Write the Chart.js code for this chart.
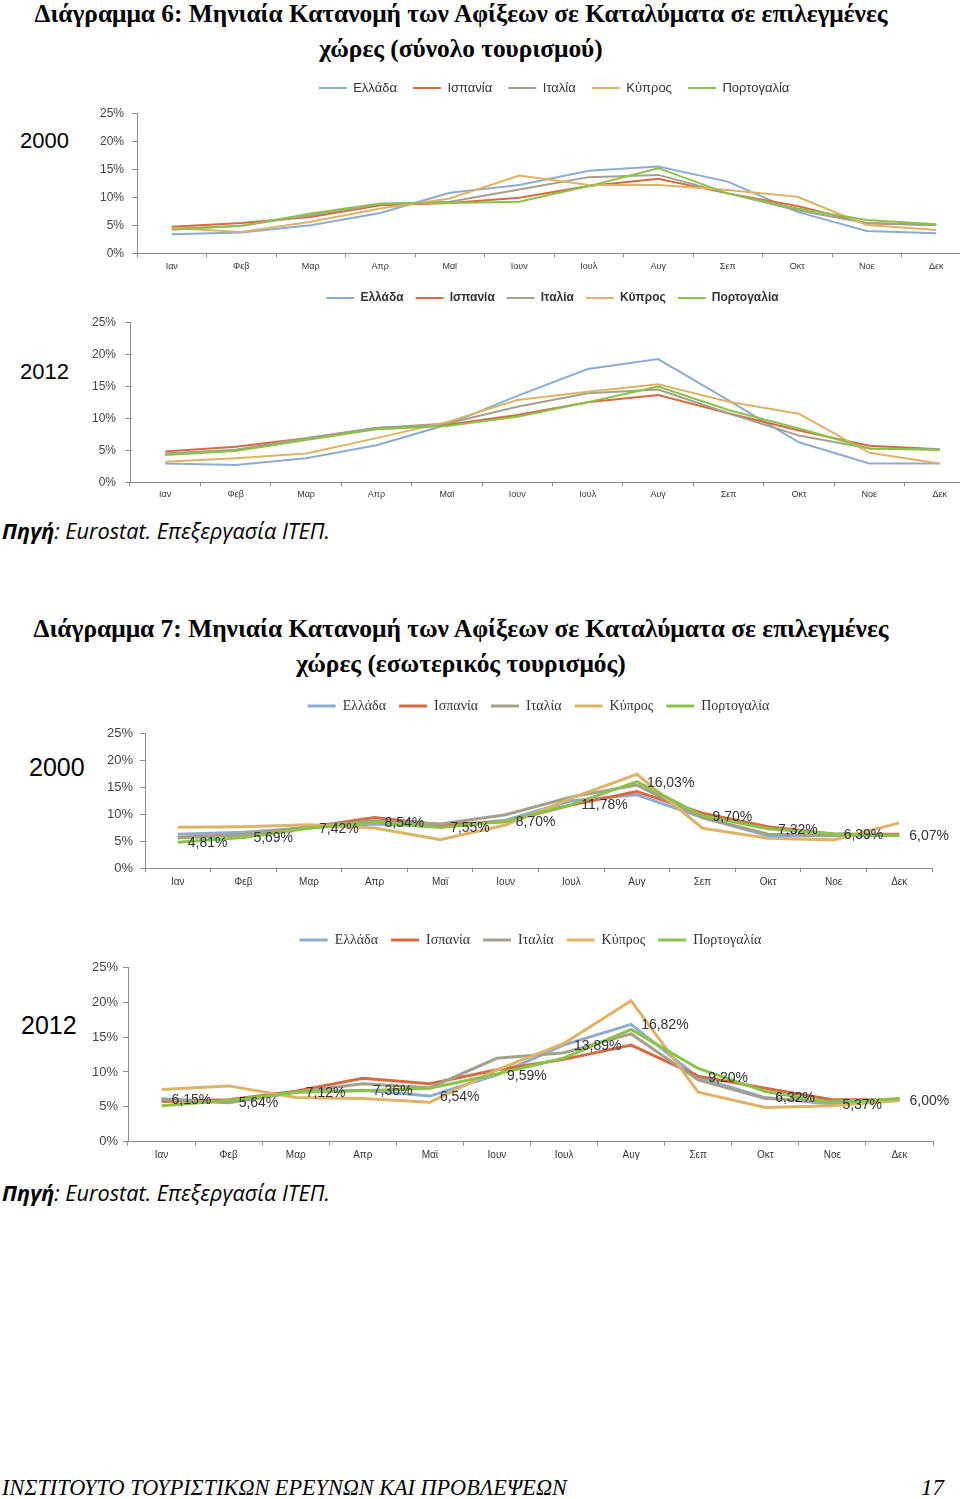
<!DOCTYPE html>
<html lang="el">
<head>
<meta charset="utf-8">
<title>Διαγράμματα 6 και 7</title>
<script src="https://cdn.jsdelivr.net/npm/chart.js@4.4.1/dist/chart.umd.min.js"></script>
<style>
  html, body { margin: 0; padding: 0; width: 960px; height: 1499px; overflow: hidden; background: #fff; }
  .abs { position: absolute; white-space: nowrap; color: #000; }
  .title { left: 0; width: 922px; text-align: center; font-family: 'Liberation Serif', serif; font-weight: bold; font-size: 23px; line-height: 35px; }
  .source { left: 2px; font-family: 'Open Sans', 'Liberation Sans', sans-serif; font-style: italic; font-size: 19px; line-height: 26px; }
  .year { font-family: 'Liberation Sans', Arial, sans-serif; }
  .footer { font-family: 'Liberation Serif', serif; font-style: italic; font-size: 23px; line-height: 30px; }
  canvas { position: absolute; left: 0; }
</style>
</head>
<body>

<div class="abs title" style="top:-4.5px"><span data-w="853">Διάγραμμα 6: Μηνιαία Κατανομή των Αφίξεων σε Καταλύματα σε επιλεγμένες</span><br>χώρες (σύνολο τουρισμού)</div>
<div class="abs year" style="left:20px; top:128px; font-size:22px; line-height:26px">2000</div>
<canvas id="chart1" width="980" height="212" style="top:60px"></canvas>
<div class="abs year" style="left:20px; top:359px; font-size:22px; line-height:26px">2012</div>
<canvas id="chart2" width="980" height="238" style="top:272px"></canvas>
<div class="abs source" style="top:518px"><span data-w="328"><b>Πηγή</b>: Eurostat. Επεξεργασία ΙΤΕΠ.</span></div>

<div class="abs title" style="top:610.5px"><span data-w="855">Διάγραμμα 7: Μηνιαία Κατανομή των Αφίξεων σε Καταλύματα σε επιλεγμένες</span><br>χώρες (εσωτερικός τουρισμός)</div>
<div class="abs year" style="left:29px; top:752px; font-size:25px; line-height:30px">2000</div>
<canvas id="chart3" width="980" height="220" style="top:680px"></canvas>
<div class="abs year" style="left:21px; top:1010px; font-size:25px; line-height:30px">2012</div>
<canvas id="chart4" width="980" height="255" style="top:915px"></canvas>
<div class="abs source" style="top:1180px"><span data-w="328"><b>Πηγή</b>: Eurostat. Επεξεργασία ΙΤΕΠ.</span></div>

<div class="abs footer" style="left:2px; top:1473px"><span data-w="565">ΙΝΣΤΙΤΟΥΤΟ ΤΟΥΡΙΣΤΙΚΩΝ ΕΡΕΥΝΩΝ ΚΑΙ ΠΡΟΒΛΕΨΕΩΝ</span></div>
<div class="abs footer" style="left:921px; top:1473px">17</div>

<script>
// months and countries shared by all four charts
const months = ['Ιαν', 'Φεβ', 'Μαρ', 'Απρ', 'Μαϊ', 'Ιουν', 'Ιουλ', 'Αυγ', 'Σεπ', 'Οκτ', 'Νοε', 'Δεκ'];
const countries = ['Ελλάδα', 'Ισπανία', 'Ιταλία', 'Κύπρος', 'Πορτογαλία'];
const yMax = 25;
const yStep = 5;

// Διάγραμμα 6 - 2000 (σύνολο τουρισμού), % of yearly arrivals
const tot2000Greece   = [3.4, 3.7, 5.0, 7.2, 10.8, 12.2, 14.75, 15.5, 12.8, 7.4, 4.0, 3.6];
const tot2000Spain    = [4.75, 5.4, 6.5, 8.6, 9.0, 9.9, 12.0, 13.3, 10.7, 8.45, 5.35, 5.05];
const tot2000Italy    = [4.4, 4.9, 6.8, 8.8, 9.2, 11.4, 13.6, 14.0, 10.7, 7.7, 5.4, 5.0];
const tot2000Cyprus   = [4.5, 3.8, 5.65, 8.0, 9.8, 13.9, 12.2, 12.2, 11.3, 10.1, 5.05, 4.15];
const tot2000Portugal = [4.2, 4.9, 7.1, 8.9, 9.0, 9.2, 12.0, 15.2, 10.7, 8.0, 5.95, 5.2];

// Διάγραμμα 6 - 2012
const tot2012Greece   = [2.95, 2.7, 3.75, 5.8, 9.0, 13.5, 17.7, 19.25, 12.8, 6.25, 2.95, 2.95];
const tot2012Spain    = [4.8, 5.55, 6.9, 8.5, 9.0, 10.5, 12.5, 13.65, 10.8, 8.1, 5.7, 5.15];
const tot2012Italy    = [4.5, 5.1, 6.9, 8.5, 9.2, 11.8, 13.9, 14.5, 10.8, 7.3, 5.3, 5.15];
const tot2012Cyprus   = [3.2, 3.75, 4.5, 6.9, 9.4, 12.85, 14.15, 15.3, 12.6, 10.7, 4.6, 2.95];
const tot2012Portugal = [4.25, 4.9, 6.6, 8.3, 8.8, 10.25, 12.5, 14.95, 11.3, 8.4, 5.3, 5.05];

// Διάγραμμα 7 - 2000 (εσωτερικός τουρισμός)
const dom2000Greece   = [6.3, 6.65, 7.5, 8.2, 7.7, 8.9, 12.5, 13.6, 9.4, 6.0, 6.0, 6.2];
const dom2000Spain    = [5.7, 6.2, 7.6, 9.4, 8.05, 8.6, 11.7, 14.2, 10.2, 7.7, 6.3, 6.3];
const dom2000Italy    = [5.6, 6.2, 7.7, 8.8, 8.2, 9.9, 13.2, 15.4, 9.4, 6.3, 6.1, 6.1];
const dom2000Cyprus   = [7.6, 7.7, 8.05, 7.45, 5.3, 8.0, 13.0, 17.4, 7.4, 5.55, 5.25, 8.4];
const dom2000Portugal = [4.81, 5.69, 7.42, 8.54, 7.55, 8.70, 11.78, 16.03, 9.70, 7.32, 6.39, 6.07];

// Διάγραμμα 7 - 2012
const dom2012Greece   = [6.15, 5.64, 7.12, 7.36, 6.54, 9.59, 13.89, 16.82, 9.20, 6.32, 5.37, 6.00];
const dom2012Spain    = [5.75, 6.0, 7.25, 9.1, 8.3, 10.3, 11.8, 13.85, 9.4, 7.65, 6.0, 6.0];
const dom2012Italy    = [6.1, 5.6, 7.1, 8.3, 7.75, 11.95, 12.75, 15.45, 8.85, 6.2, 5.8, 6.1];
const dom2012Cyprus   = [7.5, 8.0, 6.35, 6.2, 5.65, 10.3, 14.1, 20.2, 7.1, 4.9, 5.15, 5.9];
const dom2012Portugal = [5.15, 5.9, 7.1, 7.3, 7.65, 9.7, 12.0, 16.1, 10.5, 7.2, 5.6, 6.2];

const colors = ['#8eaccf', '#d46b43', '#a3a18b', '#dcb467', '#8cc24a'];
const axisColor = '#8c8c8c';
const sans = "'Liberation Sans', Arial, sans-serif";
const serif = "'Liberation Serif', 'Times New Roman', serif";

// fit long text lines to the width they have in the scanned page
document.querySelectorAll('[data-w]').forEach(el => {
    const w = el.getBoundingClientRect().width;
    const fs = parseFloat(getComputedStyle(el).fontSize);
    el.parentElement.style.fontSize = (fs * (+el.dataset.w) / w).toFixed(2) + 'px';
});

// adds some space between the legend and the plot
function legendGap(gap) {
    return {
        id: 'legendGap',
        beforeInit(chart) {
            const fit = chart.legend.fit;
            chart.legend.fit = function () {
                fit.call(this);
                this.height += gap;
            };
        }
    };
}

// Excel style value labels to the right of each point of one series
function valueLabels(idx, size) {
    return {
        id: 'valueLabels',
        afterDatasetsDraw(chart) {
            if (idx === null) return;
            const ctx = chart.ctx;
            const values = chart.data.datasets[idx].data;
            ctx.save();
            ctx.font = size + 'px ' + sans;
            ctx.fillStyle = '#333';
            ctx.textBaseline = 'middle';
            chart.getDatasetMeta(idx).data.forEach((pt, i) => {
                ctx.fillText(values[i].toFixed(2).replace('.', ',') + '%', pt.x + 10, pt.y + 1);
            });
            ctx.restore();
        }
    };
}

function makeChart(id, series, box) {
    const lp = box.legendPad;
    const fs = box.legendFont.size;
    const padTop = box.legendY - box.top - lp - fs / 2;
    const extra = (box.areaTop - box.top) - (padTop + fs + lp + 10);
    const xHeight = box.height - (box.areaBottom - box.top);

    return new Chart(document.getElementById(id), {
        type: 'line',
        data: {
            labels: months,
            datasets: series.map((values, i) => ({
                label: countries[i],
                data: values,
                borderColor: colors[i],
                backgroundColor: colors[i],
                borderWidth: box.lineWidth,
                pointRadius: 0,
                tension: 0,
                order: 5 - i // last series on top, as in Excel
            }))
        },
        options: {
            responsive: false,
            animation: false,
            layout: { padding: { top: padTop, left: 0, bottom: 0, right: box.width - box.areaRight } },
            plugins: {
                legend: {
                    position: 'top',
                    fullSize: false,
                    labels: {
                        usePointStyle: true,
                        pointStyle: 'line',
                        pointStyleWidth: 28,
                        padding: lp,
                        font: box.legendFont,
                        color: '#333',
                        sort: (a, b) => a.datasetIndex - b.datasetIndex
                    }
                },
                tooltip: { enabled: false }
            },
            scales: {
                x: {
                    offset: true,
                    ticks: { font: { family: sans, size: box.xFont }, color: '#333', padding: box.xPad },
                    grid: { offset: true, drawOnChartArea: false, tickLength: 4, color: axisColor },
                    border: { color: axisColor },
                    afterFit: s => { s.height = xHeight; }
                },
                y: {
                    min: 0,
                    max: yMax,
                    ticks: {
                        stepSize: yStep,
                        font: { family: sans, size: box.yFont },
                        color: '#444',
                        padding: box.yPad,
                        callback: v => v + '%'
                    },
                    grid: { drawOnChartArea: false, tickLength: 5, color: axisColor },
                    border: { color: axisColor },
                    afterFit: s => { s.width = box.areaLeft; }
                }
            }
        },
        plugins: [legendGap(extra), valueLabels(box.labelSeries, box.labelFont)]
    });
}

makeChart('chart1', [tot2000Greece, tot2000Spain, tot2000Italy, tot2000Cyprus, tot2000Portugal], {
    top: 60, height: 212, width: 980,
    legendY: 88, areaTop: 113.3, areaBottom: 253.3, areaLeft: 137, areaRight: 971,
    legendFont: { family: sans, size: 13 }, legendPad: 16,
    xFont: 9, xPad: 4, yFont: 12, yPad: 8, lineWidth: 2, labelSeries: null
});

makeChart('chart2', [tot2012Greece, tot2012Spain, tot2012Italy, tot2012Cyprus, tot2012Portugal], {
    top: 272, height: 238, width: 980,
    legendY: 298, areaTop: 322.3, areaBottom: 482.3, areaLeft: 130, areaRight: 975,
    legendFont: { family: sans, size: 12, weight: 'bold' }, legendPad: 12,
    xFont: 9, xPad: 3, yFont: 12, yPad: 9, lineWidth: 2, labelSeries: null
});

makeChart('chart3', [dom2000Greece, dom2000Spain, dom2000Italy, dom2000Cyprus, dom2000Portugal], {
    top: 680, height: 220, width: 980,
    legendY: 706, areaTop: 733.3, areaBottom: 868.2, areaLeft: 145, areaRight: 932,
    legendFont: { family: serif, size: 14 }, legendPad: 13,
    xFont: 10, xPad: 4, yFont: 13, yPad: 7, lineWidth: 3, labelSeries: 4, labelFont: 14
});

makeChart('chart4', [dom2012Greece, dom2012Spain, dom2012Italy, dom2012Cyprus, dom2012Portugal], {
    top: 915, height: 255, width: 980,
    legendY: 940, areaTop: 967.3, areaBottom: 1141.7, areaLeft: 128, areaRight: 933,
    legendFont: { family: serif, size: 14 }, legendPad: 13,
    xFont: 10, xPad: 4, yFont: 13, yPad: 5, lineWidth: 3, labelSeries: 0, labelFont: 14
});
</script>
</body>
</html>
